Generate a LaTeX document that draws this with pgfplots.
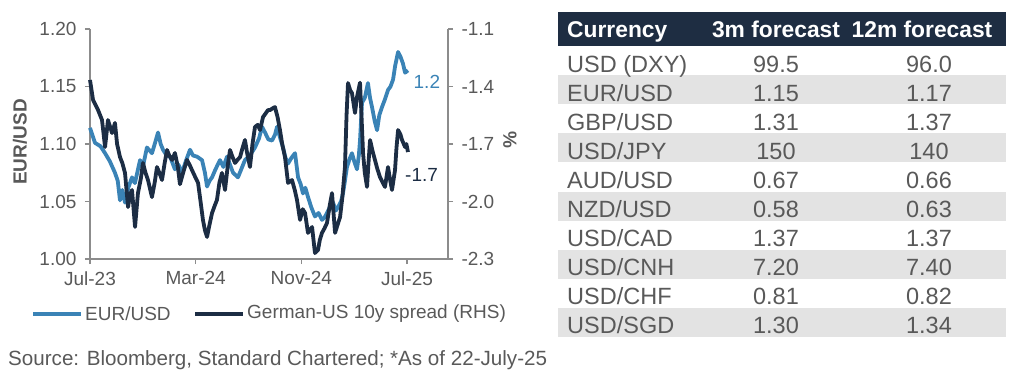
\documentclass[border=0pt]{standalone}
\usepackage{fontspec}
\setmainfont{Liberation Sans}
\usepackage{pgfplots}
\pgfplotsset{compat=1.18}
\definecolor{eurblue}{HTML}{3A83B6}
\definecolor{navy}{HTML}{1C2D44}
\definecolor{hdr}{HTML}{1E2D42}
\definecolor{txt}{HTML}{595959}
\definecolor{axgrey}{HTML}{8C8C8C}
\definecolor{rowgrey}{HTML}{E3E3E3}
\newcommand\tf{\fontsize{23.5}{26}\selectfont}
\newcommand\hf{\fontsize{22.8}{26}\selectfont}
\newcommand\cf{\fontsize{19}{21}\selectfont}
\newcommand\trow[4]{%
  \node[anchor=base west,text=txt,inner sep=0] at (567,{376-(46+29.1*#1+26)}) {\tf #2};
  \node[anchor=base,text=txt,inner sep=0] at (776,{376-(46+29.1*#1+26)}) {\tf #3};
  \node[anchor=base,text=txt,inner sep=0] at (929,{376-(46+29.1*#1+26)}) {\tf #4};
}
\begin{document}
\begin{tikzpicture}[x=1pt,y=1pt]
\useasboundingbox (0,0) rectangle (1020,376);
% ---- table ----
\fill[hdr] (558,{376-12}) rectangle (1006,{376-46});
\foreach \i in {1,3,5,7,9} {\fill[rowgrey] (558,{376-(46+29.1*\i)}) rectangle (1006,{376-(46+29.1*(\i+1))});}
\node[anchor=base west,text=white,inner sep=0] at (567,{376-38}) {\hf\bfseries Currency};
\node[anchor=base,text=white,inner sep=0] at (776,{376-38}) {\hf\bfseries 3m forecast};
\node[anchor=base,text=white,inner sep=0] at (922,{376-38}) {\hf\bfseries 12m forecast};
\trow{0}{USD (DXY)}{99.5}{96.0}
\trow{1}{EUR/USD}{1.15}{1.17}
\trow{2}{GBP/USD}{1.31}{1.37}
\trow{3}{USD/JPY}{150}{140}
\trow{4}{AUD/USD}{0.67}{0.66}
\trow{5}{NZD/USD}{0.58}{0.63}
\trow{6}{USD/CAD}{1.37}{1.37}
\trow{7}{USD/CNH}{7.20}{7.40}
\trow{8}{USD/CHF}{0.81}{0.82}
\trow{9}{USD/SGD}{1.30}{1.34}
% ---- chart ----
\pgfplotsset{common/.style={
  at={(90pt,117pt)}, anchor=south west, scale only axis, width=358pt, height=230pt,
  xmin=0, xmax=27.1, clip=false,
  tick align=outside, major tick length=5pt,
  tick style={axgrey, line width=1.2pt},
  axis line style={axgrey, line width=1.3pt, -},
  ticklabel style={font=\cf, text=txt},
  /pgf/number format/assume math mode=true,
  label style={font=\cf\bfseries, text=txt},
}}
\begin{axis}[common,
  axis x line*=bottom, axis y line*=left,
  ymin=1.0, ymax=1.2,
  xtick={0,8,16,24}, xticklabels={Jul-23,Mar-24,Nov-24,Jul-25},
  xticklabel style={yshift=-4pt},
  ytick={1.00,1.05,1.10,1.15,1.20},
  yticklabel style={/pgf/number format/.cd, fixed, fixed zerofill, precision=2, /tikz/xshift=-5pt},
  ylabel={EUR/USD},
  ylabel style={at={(axis description cs:-0.196,0.509)}, anchor=center},
]
\addplot[eurblue, line width=3.8pt, line join=round] coordinates {
(0,1.114) (0.38,1.101) (0.8,1.098) (1.14,1.092) (1.5,1.085) (1.89,1.075) (2.1,1.068) (2.27,1.051) (2.45,1.060) (2.65,1.049)
(2.9,1.062) (3.18,1.071) (3.4,1.066) (3.79,1.086) (4.0,1.080) (4.31,1.097) (4.69,1.092) (4.9,1.100) (5.15,1.110) (5.35,1.100)
(5.53,1.095) (5.8,1.090) (6.06,1.089) (6.43,1.078) (6.7,1.082) (6.96,1.075) (7.25,1.085) (7.57,1.095) (7.8,1.090) (8.10,1.089)
(8.48,1.086) (8.7,1.075) (8.86,1.063) (9.05,1.068) (9.24,1.071) (9.5,1.078) (9.84,1.086) (10.1,1.080) (10.37,1.089) (10.6,1.082)
(10.83,1.075) (11.20,1.071) (11.45,1.078) (11.73,1.086) (12.1,1.090) (12.49,1.097) (12.8,1.105) (13.02,1.115) (13.25,1.110) (13.5,1.104)
(13.78,1.103) (14.0,1.108) (14.16,1.115) (14.4,1.105) (14.61,1.097) (14.8,1.088) (14.99,1.083) (15.25,1.088) (15.52,1.092) (15.75,1.071)
(15.95,1.065) (16.12,1.057) (16.3,1.062) (16.50,1.054) (16.75,1.045) (17.03,1.037) (17.3,1.040) (17.56,1.034) (17.75,1.036) (17.94,1.040)
(18.2,1.046) (18.40,1.049) (18.6,1.042) (18.77,1.045) (19.0,1.050) (19.15,1.057) (19.3,1.068) (19.45,1.080) (19.65,1.087) (19.83,1.092)
(20.0,1.085) (20.21,1.078) (20.35,1.090) (20.44,1.103) (20.59,1.136) (20.8,1.140) (21.04,1.153) (21.2,1.140) (21.35,1.132) (21.55,1.120)
(21.73,1.112) (21.9,1.125) (22.10,1.132) (22.3,1.138) (22.56,1.147) (22.75,1.150) (22.94,1.156) (23.1,1.168) (23.32,1.180) (23.5,1.176)
(23.69,1.170) (23.85,1.162) (24.07,1.164)
};
\node[text=eurblue, font=\cf] at (axis cs:25.5,1.154) {1.2};
\end{axis}
\begin{axis}[common,
  axis x line=none, axis y line*=right,
  ymin=-2.3, ymax=-1.1,
  ytick={-2.3,-2.0,-1.7,-1.4,-1.1},
  yticklabel style={/pgf/number format/.cd, fixed, fixed zerofill, precision=1, /tikz/xshift=5pt},
  ylabel={\%},
  ylabel style={at={(axis description cs:1.173,0.517)}, anchor=center, rotate=180},
]
\addplot[navy, line width=3.8pt, line join=round] coordinates {
(0,-1.366) (0.12,-1.420) (0.23,-1.470) (0.45,-1.500) (0.61,-1.523) (0.91,-1.575) (1.14,-1.716) (1.36,-1.575) (1.67,-1.643) (1.89,-1.590)
(2.05,-1.700) (2.27,-1.768) (2.45,-1.800) (2.65,-1.851) (2.88,-2.029) (3.05,-1.960) (3.18,-1.940) (3.41,-2.133) (3.63,-1.956) (3.85,-1.880)
(4.01,-1.799) (4.2,-1.850) (4.39,-1.888) (4.69,-1.977) (4.9,-1.900) (5.07,-1.820) (5.25,-1.850) (5.45,-1.888) (5.65,-1.800) (5.83,-1.731)
(6.0,-1.760) (6.21,-1.783) (6.43,-1.747) (6.65,-1.820) (6.81,-1.910) (7.05,-1.850) (7.34,-1.783) (7.55,-1.810) (7.72,-1.836) (7.95,-1.870)
(8.18,-1.903) (8.35,-1.990) (8.55,-2.096) (8.7,-2.150) (8.86,-2.185) (9.05,-2.120) (9.24,-2.060) (9.45,-2.020) (9.61,-1.992) (9.8,-1.900)
(9.99,-1.851) (10.22,-1.940) (10.45,-1.800) (10.60,-1.731) (10.8,-1.770) (10.98,-1.799) (11.2,-1.780) (11.36,-1.768) (11.55,-1.720) (11.73,-1.679)
(11.9,-1.750) (12.11,-1.820) (12.3,-1.700) (12.49,-1.611) (12.7,-1.600) (12.87,-1.627) (13.10,-1.559) (13.3,-1.540) (13.47,-1.523) (13.63,-1.523)
(13.8,-1.515) (14.00,-1.507) (14.2,-1.560) (14.38,-1.627) (14.55,-1.700) (14.76,-1.768) (14.99,-1.903) (15.29,-1.888) (15.5,-1.940) (15.67,-1.992)
(15.90,-2.096) (16.1,-2.040) (16.28,-2.060) (16.50,-2.164) (16.81,-2.133) (17.03,-2.269) (17.26,-2.253) (17.4,-2.200) (17.56,-2.164) (17.75,-2.140)
(17.94,-2.112) (18.15,-2.020) (18.32,-1.956) (18.55,-2.164) (18.75,-2.120) (18.93,-2.081) (19.1,-1.980) (19.30,-1.820) (19.42,-1.550) (19.53,-1.382)
(19.7,-1.420) (19.83,-1.434) (20.06,-1.538) (20.21,-1.455) (20.44,-1.380) (20.55,-1.550) (20.67,-1.747) (20.8,-1.850) (20.97,-1.924) (21.1,-1.780)
(21.20,-1.679) (21.4,-1.740) (21.57,-1.783) (21.75,-1.830) (21.95,-1.872) (22.15,-1.900) (22.33,-1.924) (22.56,-1.820) (22.7,-1.880) (22.86,-1.940)
(23.09,-1.836) (23.2,-1.720) (23.32,-1.627) (23.5,-1.650) (23.62,-1.679) (23.85,-1.716) (23.95,-1.700) (24.07,-1.742)
};
\node[text=navy, font=\cf] at (axis cs:25.1,-1.862) {-1.7};
\end{axis}
% ---- legend ----
\draw[eurblue, line width=3.8pt] (33,{376-314}) -- (81,{376-314});
\node[anchor=west, inner sep=0, text=txt, font=\cf] at (85,{376-314}) {EUR/USD};
\draw[navy, line width=3.8pt] (195,{376-314}) -- (243,{376-314});
\node[anchor=west, inner sep=0, text=txt, font=\cf] at (247,{376-314}) {German-US 10y spread (RHS)};
% ---- source ----
\node[anchor=base west, inner sep=0, text=txt, font=\fontsize{20.6}{23}\selectfont] at (8,{376-365}) {Source: Bloomberg, Standard Chartered; *As of 22-July-25};
\end{tikzpicture}
\end{document}
